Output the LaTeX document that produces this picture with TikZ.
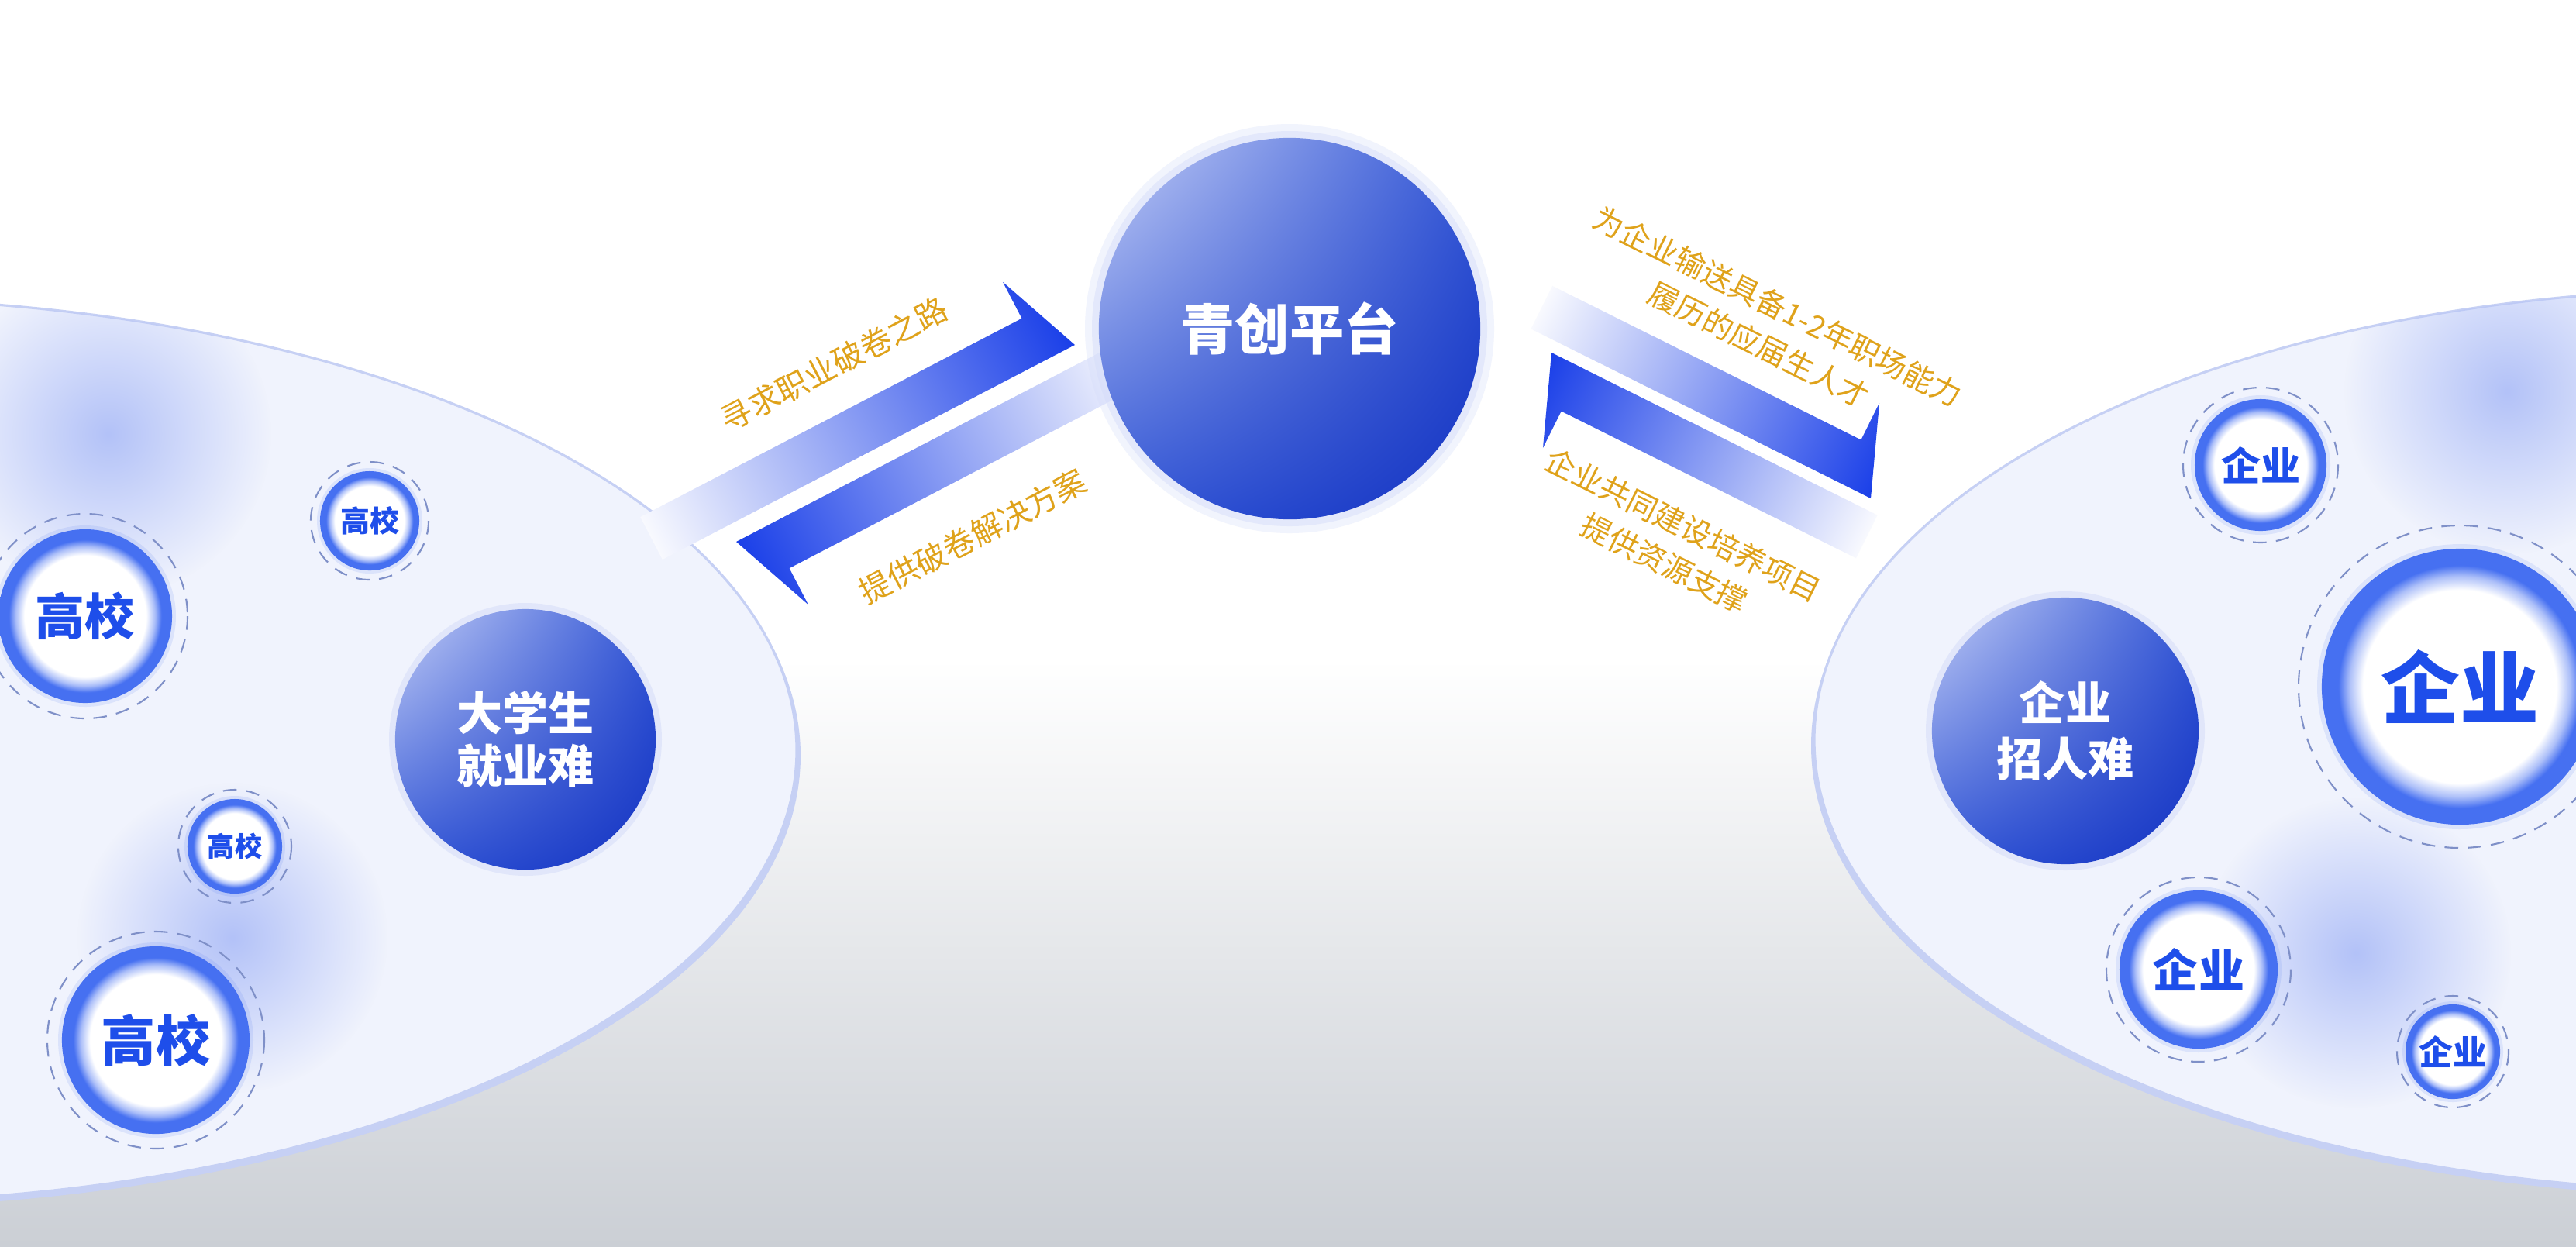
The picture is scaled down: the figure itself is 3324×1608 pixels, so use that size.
\documentclass[tikz,border=0pt]{standalone}
\usepackage{fontspec}
\usepackage{tikz}
\usetikzlibrary{calc}
\usetikzlibrary{positioning}
\usetikzlibrary{fadings}
\usetikzlibrary{shadings}
\IfFontExistsTF{Noto Sans CJK SC Black}
  {\newfontfamily\cjk[BoldFont={Noto Sans CJK SC Black}]{Noto Sans CJK SC}}
  {\newfontfamily\cjk{Noto Sans CJK SC}}

\definecolor{ringblue}{HTML}{4670F1}
\definecolor{textblue}{HTML}{1E4EEA}
\definecolor{arrowblue}{HTML}{1A3FE8}
\definecolor{goldtext}{HTML}{DFA21A}
\definecolor{platefill}{HTML}{F0F3FD}
\definecolor{plateedge}{HTML}{C6D0F4}
\definecolor{blobblue}{HTML}{B3C2F8}
\definecolor{floorgray}{HTML}{CBCFD5}
\definecolor{dashgray}{HTML}{7F90C8}
\definecolor{ballhi}{HTML}{C4CEF6}
\definecolor{ballmid}{HTML}{3357D6}
\definecolor{balllo}{HTML}{1433C2}
\definecolor{halo}{HTML}{D3DBF9}

\pgfdeclareradialshading{ringfill}{\pgfpoint{0bp}{0bp}}{color(0bp)=(white); color(17.5bp)=(white); color(20bp)=(ringblue!45); color(22bp)=(ringblue); color(50bp)=(ringblue)}
\tikzfading[name=blobfade, inner color=transparent!0, outer color=transparent!100]

% one-sided arrow: tip, angle, length
\newcommand{\barbarrow}[3]{%
  \begin{scope}[transform canvas={shift={#1}, rotate=#2}]
    \shade[left color=arrowblue!3, middle color=arrowblue!38, right color=arrowblue]
      (0,0) -- (-#3,0) -- (-#3,-62) -- (-45,-62) -- (-45,-115) -- cycle;
  \end{scope}}

\tikzset{
  plate/.style={fill=platefill, draw=plateedge, line width=0.9pt},
  blob/.style={fill=blobblue, path fading=blobfade},
  bigball/.style={circle, inner sep=0pt, upper left=ballhi, upper right=ballmid,
    lower left=ballmid, lower right=balllo, text=white, align=center},
  ringball/.style={circle, inner sep=0pt, shade, shading=ringfill, text=textblue},
  ringdash/.style={draw=dashgray, line width=0.6pt, dash pattern=on 5pt off 3.5pt},
  glow/.style={fill=ringblue, opacity=0.12},
  goldlabel/.style={text=goldtext, align=center, font=\cjk\fontsize{11.5pt}{15.6pt}\selectfont},
}

\begin{document}
\begin{tikzpicture}[x=0.01cm, y=-0.01cm]
\useasboundingbox (0,0) rectangle (3324,1608);
% background
\fill[white] (0,0) rectangle (3324,1608);
\shade[top color=white, bottom color=floorgray] (0,850) rectangle (3324,1608);

% the two plates
\fill[plateedge] (-207,975) ellipse [x radius=1240, y radius=583];
\fill[plate] (-212,968) ellipse [x radius=1240, y radius=583];
\fill[plateedge] (3532,962) ellipse [x radius=1195, y radius=582];
\fill[plate] (3536,955) ellipse [x radius=1195, y radius=582];

% blurred spots
\begin{scope}
  \clip (-212,968) ellipse [x radius=1240, y radius=583];
  \fill[blob] (140,560) circle (210);
  \fill[blob] (300,1210) circle (200);
\end{scope}
\begin{scope}
  \clip (3536,955) ellipse [x radius=1195, y radius=582];
  \fill[blob] (3235,505) circle (210);
  \fill[blob] (3040,1230) circle (200);
\end{scope}

% arrows
\barbarrow{(1387,445)}{27.5}{600}
\barbarrow{(950,699)}{207.5}{560}
\barbarrow{(2414,643)}{-26.5}{490}
\barbarrow{(2002,455)}{153.5}{470}

% hub and the two problem balls
\fill[halo, opacity=0.3] (1664,424) circle (264);
\fill[halo, opacity=0.45] (1664,424) circle (255);
\node[bigball, minimum size=4.92cm, font=\cjk\bfseries\fontsize{20pt}{24pt}\selectfont] (hub) at (1664,424) {青创平台};
\fill[halo, opacity=0.5] (678,954) circle (176);
\node[bigball, minimum size=3.36cm, font=\cjk\bfseries\fontsize{16.8pt}{19.5pt}\selectfont] (stu) at (678,954) {大学生\\就业难};
\fill[halo, opacity=0.5] (2665,943) circle (180);
\node[bigball, minimum size=3.44cm, font=\cjk\bfseries\fontsize{16.8pt}{20.5pt}\selectfont] (firm) at (2665,943) {企业\\招人难};

% schools
\fill[glow] (110,795) circle (117);
\node[ringball, minimum size=2.24cm, font=\cjk\bfseries\fontsize{18.2pt}{20pt}\selectfont] (gx1) at (110,795) {高校};
\draw[ringdash] (gx1.center) circle (132);
\fill[glow] (477,672) circle (68);
\node[ringball, minimum size=1.28cm, font=\cjk\bfseries\fontsize{10.8pt}{12pt}\selectfont] (gx2) at (477,672) {高校};
\draw[ringdash] (gx2.center) circle (76);
\fill[glow] (303,1092) circle (65);
\node[ringball, minimum size=1.22cm, font=\cjk\bfseries\fontsize{10pt}{12pt}\selectfont] (gx3) at (303,1092) {高校};
\draw[ringdash] (gx3.center) circle (73);
\fill[glow] (201,1342) circle (126);
\node[ringball, minimum size=2.42cm, font=\cjk\bfseries\fontsize{20pt}{22pt}\selectfont] (gx4) at (201,1342) {高校};
\draw[ringdash] (gx4.center) circle (140);

% enterprises
\fill[glow] (2917,600) circle (90);
\node[ringball, minimum size=1.70cm, font=\cjk\bfseries\fontsize{14.5pt}{16pt}\selectfont] (qy1) at (2917,600) {企业};
\draw[ringdash] (qy1.center) circle (100);
\fill[glow] (3174,886) circle (184);
\node[ringball, minimum size=3.56cm, font=\cjk\bfseries\fontsize{29pt}{32pt}\selectfont] (qy2) at (3174,886) {企业};
\draw[ringdash] (qy2.center) circle (208);
\fill[glow] (2837,1251) circle (107);
\node[ringball, minimum size=2.04cm, font=\cjk\bfseries\fontsize{16.8pt}{18pt}\selectfont] (qy3) at (2837,1251) {企业};
\draw[ringdash] (qy3.center) circle (119);
\fill[glow] (3165,1357) circle (65);
\node[ringball, minimum size=1.22cm, font=\cjk\bfseries\fontsize{12.5pt}{14pt}\selectfont] (qy4) at (3165,1357) {企业};
\draw[ringdash] (qy4.center) circle (72);

% labels on the arrows
\node[goldlabel, rotate=27.5] (seek) at (1076,470) {寻求职业破卷之路};
\node[goldlabel, rotate=27.5] (offer) at (1255,692) {提供破卷解决方案};
\node[goldlabel, rotate=-26.5, font=\cjk\fontsize{11.1pt}{15.6pt}\selectfont] (supply) at (2282,420) {为企业输送具备1-2年职场能力\\履历的应届生人才};
\node[goldlabel, rotate=-26.5, font=\cjk\fontsize{11.1pt}{15.6pt}\selectfont] (build) at (2160,702) {企业共同建设培养项目\\提供资源支撑};
\end{tikzpicture}
\end{document}
